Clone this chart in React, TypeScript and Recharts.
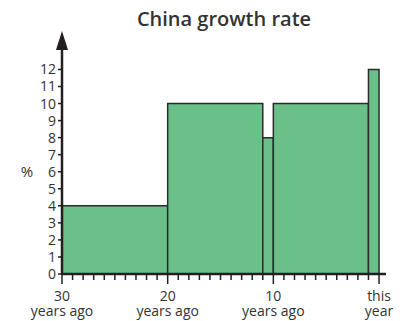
import { ComposedChart, Line, XAxis, YAxis, ReferenceArea } from "recharts";

const starts = [-30, -20, -11, -10, -1];
const ends = [-20, -11, -10, -1, 0];
const rates = [4, 10, 8, 10, 12];
const yTicks = [0, 1, 2, 3, 4, 5, 6, 7, 8, 9, 10, 11, 12];
const xTicks = Array.from({ length: 31 }, (_, i) => i - 30);
const majorLabels: Record<number, [string, string]> = {
  [-30]: ["30", "years ago"],
  [-20]: ["20", "years ago"],
  [-10]: ["10", "years ago"],
  [0]: ["this", "year"],
};

const data = starts.map((s, i) => ({ start: s, end: ends[i], rate: rates[i] }));

const FONT = "'Open Sans', sans-serif";
const INK = "#231f20";
const TEXT = "#333333";
const FILL = "#6bbf88";

function XTick(props: any) {
  const { x, y, payload } = props;
  const lab = majorLabels[payload.value];
  return (
    <g>
      <line x1={x} x2={x} y1={y} y2={y + (lab ? 10 : 6)} stroke={INK} strokeWidth={1.5} />
      {lab && (
        <text x={x} textAnchor="middle" fontFamily={FONT} fontSize={14} fill={TEXT}>
          <tspan x={x} y={y + 27}>{lab[0]}</tspan>
          <tspan x={x} y={y + 42}>{lab[1]}</tspan>
        </text>
      )}
    </g>
  );
}

function YLabel(props: any) {
  const vb = props.viewBox || {};
  const ax = vb.x + vb.width;
  const top = vb.y;
  return (
    <g>
      <polygon points={`${ax},${top - 18} ${ax - 6},${top + 1} ${ax + 6},${top + 1}`} fill={INK} />
      <text x={27} y={vb.y + vb.height * 0.55} textAnchor="middle" dominantBaseline="middle" fontFamily={FONT} fontSize={15} fill={TEXT}>
        %
      </text>
    </g>
  );
}

export default function App() {
  return (
    <div style={{ position: "absolute", left: 0, top: 0, width: 400, height: 321, background: "#fff" }}>
      <div
        style={{
          position: "absolute",
          left: 48,
          width: 352,
          top: 5,
          textAlign: "center",
          fontFamily: FONT,
          fontWeight: 600,
          fontSize: 20,
          color: TEXT,
        }}
      >
        China growth rate
      </div>
      <ComposedChart width={400} height={321} data={data} margin={{ top: 49, right: 14, bottom: 0, left: 0 }}>
        <XAxis
          dataKey="start"
          type="number"
          domain={[-30, 0.66]}
          ticks={xTicks}
          interval={0}
          allowDataOverflow
          height={47}
          tickSize={0}
          tickMargin={0}
          tickLine={false}
          axisLine={{ stroke: INK, strokeWidth: 2.5 }}
          tick={<XTick />}
        />
        <YAxis
          type="number"
          domain={[0, 13.2]}
          ticks={yTicks}
          interval={0}
          allowDataOverflow
          width={62}
          tickSize={4}
          tickMargin={2}
          tickLine={{ stroke: INK, strokeWidth: 1.5 }}
          axisLine={{ stroke: INK, strokeWidth: 2.5 }}
          tick={{ fontFamily: FONT, fontSize: 14, fill: TEXT }}
          label={<YLabel />}
        />
        {data.map((d, i) => (
          <ReferenceArea
            key={i}
            x1={d.start}
            x2={d.end}
            y1={0}
            y2={d.rate}
            fill={FILL}
            fillOpacity={1}
            stroke="#2b2b2b"
            strokeWidth={1.5}
          />
        ))}
        <Line dataKey="rate" stroke="none" dot={false} activeDot={false} isAnimationActive={false} legendType="none" />
      </ComposedChart>
    </div>
  );
}
